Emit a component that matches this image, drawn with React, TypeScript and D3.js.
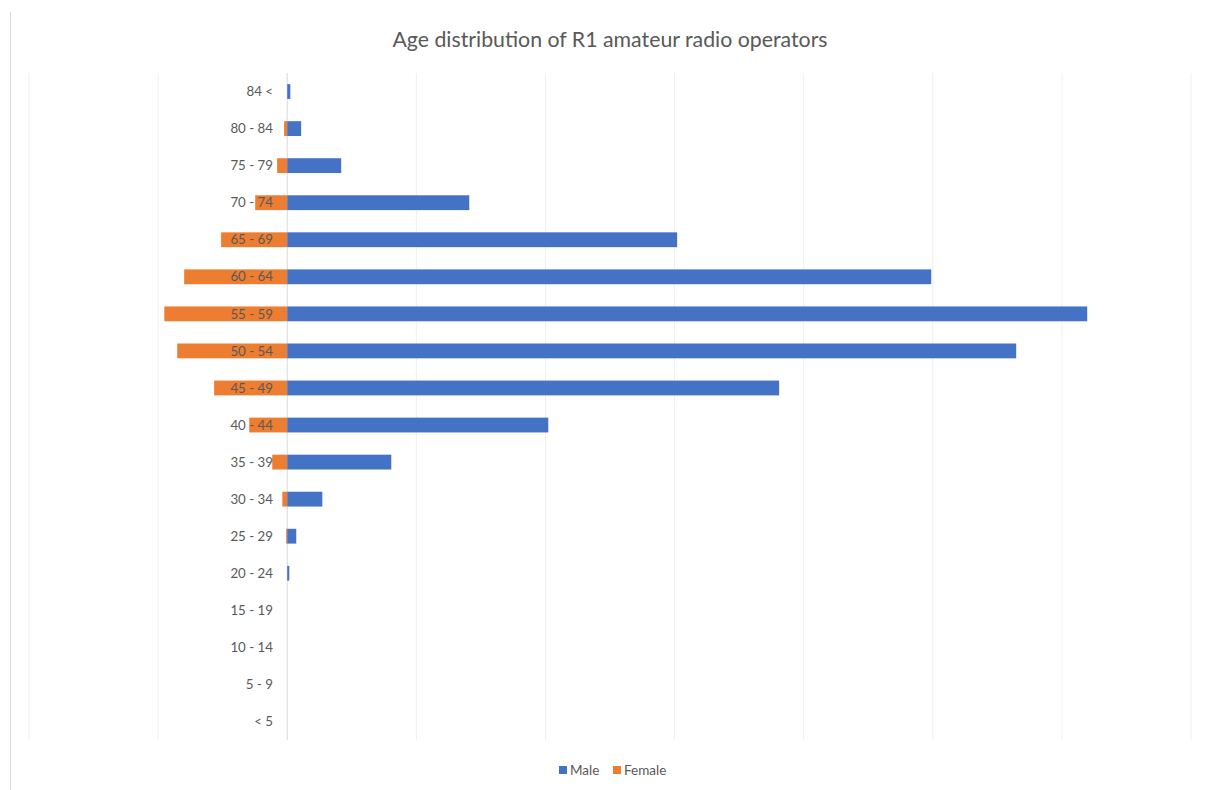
import React from "react";
import * as d3 from "d3";

const categories = ["84 <", "80 - 84", "75 - 79", "70 - 74", "65 - 69", "60 - 64", "55 - 59", "50 - 54", "45 - 49", "40 - 44", "35 - 39", "30 - 34", "25 - 29", "20 - 24", "15 - 19", "10 - 14", "5 - 9", "< 5"];
const male = [12, 54, 209, 705, 1510, 2494, 3098, 2823, 1905, 1011, 403, 136, 35, 8, 0, 0, 0, 0];
const female = [0, 12, 39, 124, 256, 399, 476, 426, 283, 147, 58, 19, 4, 0, 0, 0, 0, 0];
const xTicks = [-1000, -500, 0, 500, 1000, 1500, 2000, 2500, 3000, 3500];
const seriesNames = ["Male", "Female"];
const colors = ["#4472C4", "#ED7D31"];

export default function App() {
  const W = 1206, H = 790;
  const x = d3.scaleLinear().domain([-1000, 3500]).range([29, 1191]);
  const y = d3.scaleBand().domain(categories).range([73, 740]).paddingInner(0.6).paddingOuter(0.3);
  const font = "Lato, 'Open Sans', sans-serif";
  return (
    <svg width={W} height={H} style={{ position: "absolute", left: 0, top: 0, background: "#fff" }}>
      <line x1={10.5} x2={10.5} y1={12} y2={790} stroke="#D9D9D9" strokeWidth={1} />
      <text x={610} y={47} textAnchor="middle" fontFamily={font} fontSize={21.3} fill="#595959">
        Age distribution of R1 amateur radio operators
      </text>
      {xTicks.map((t) => (
        <line key={t} x1={x(t)} x2={x(t)} y1={73} y2={740} stroke={t === 0 ? "#D9D9D9" : "#F0F0F0"} strokeWidth={1} />
      ))}
      {categories.map((c, i) => (
        <g key={c}>
          {female[i] > 0 && (
            <rect x={x(-female[i])} y={y(c)} width={x(0) - x(-female[i])} height={y.bandwidth()} fill={colors[1]} />
          )}
          {male[i] > 0 && (
            <rect x={x(0)} y={y(c)} width={x(male[i]) - x(0)} height={y.bandwidth()} fill={colors[0]} />
          )}
        </g>
      ))}
      {categories.map((c) => (
        <text key={c} x={273} y={(y(c) as number) + y.bandwidth() / 2} dy="0.35em" textAnchor="end" fontFamily={font} fontSize={13.3} fill="#595959">
          {c}
        </text>
      ))}
      <g fontFamily={font} fontSize={13.5} fill="#595959">
        <rect x={559} y={766} width={8} height={8} fill={colors[0]} />
        <text x={570} y={770} dy="0.35em">{seriesNames[0]}</text>
        <rect x={613} y={766} width={8} height={8} fill={colors[1]} />
        <text x={624} y={770} dy="0.35em">{seriesNames[1]}</text>
      </g>
    </svg>
  );
}
